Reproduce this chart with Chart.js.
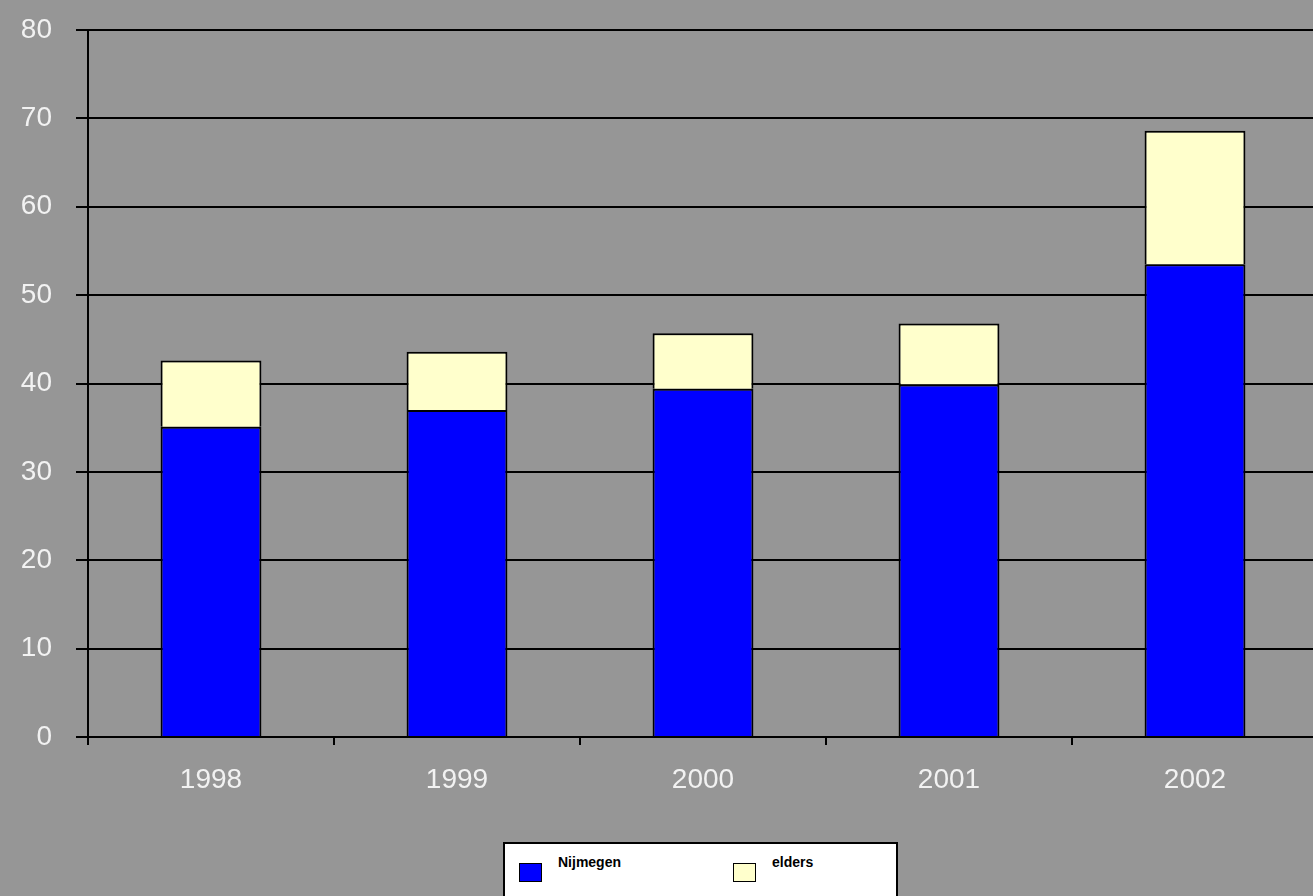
<!DOCTYPE html>
<html>
<head>
<meta charset="utf-8">
<script src="https://cdn.jsdelivr.net/npm/chart.js@4"></script>
<style>
  html, body { margin: 0; padding: 0; background: #969696; overflow: hidden; }
  #wrap { position: relative; width: 1330px; height: 896px; }
  #legend {
    position: absolute; left: 503px; top: 842px; width: 391px; height: 60px;
    background: #fff; border: 2px solid #000;
    font-family: "Liberation Sans", Arial, sans-serif; font-size: 14px; font-weight: bold; color: #000;
  }
  .lg { position: absolute; top: 10px; display: flex; align-items: flex-start; }
  .sw { width: 23px; height: 19px; border: 1px solid #000; margin-right: 16px; margin-top: 9px; box-sizing: border-box; }
</style>
</head>
<body>
<div id="wrap">
  <canvas id="c" width="1330" height="896"></canvas>
  <div id="legend"></div>
</div>
<script>
const years = ["1998", "1999", "2000", "2001", "2002"];
const nijmegen = [35.1, 37.0, 39.4, 39.9, 53.5];
const elders = [7.5, 6.6, 6.3, 6.9, 15.1];
const yTicks = { min: 0, max: 80, step: 10 };

const COLORS = { bg: "#969696", blue: "#0000ff", cream: "#ffffcc", text: "#f2f2f2" };
const tickFont = { family: "Liberation Sans", size: 28 };

const datasets = [
  { label: "Nijmegen", data: nijmegen, backgroundColor: COLORS.blue },
  { label: "elders", data: elders, backgroundColor: COLORS.cream },
].map((d) => ({
  ...d,
  borderColor: "#000",
  borderWidth: { top: 2, left: 2, right: 2, bottom: 0 },
  borderSkipped: false,
  barPercentage: 0.41,
  categoryPercentage: 1,
}));

new Chart(document.getElementById("c"), {
  type: "bar",
  data: { labels: years, datasets },
  options: {
    responsive: false,
    animation: false,
    layout: { padding: { top: 30, right: 12, left: 0, bottom: 0 } },
    plugins: { legend: { display: false }, tooltip: { enabled: false } },
    scales: {
      x: {
        stacked: true,
        afterFit: (axis) => { axis.height = 159; },
        grid: { offset: true, drawOnChartArea: false, color: "#000", lineWidth: 2, tickLength: 8 },
        border: { color: "#000", width: 2 },
        ticks: { color: COLORS.text, padding: 18, font: tickFont },
      },
      y: {
        stacked: true,
        min: yTicks.min,
        max: yTicks.max,
        afterFit: (axis) => {
          axis.width = 88;
          axis.paddingTop = 0;
        },
        grid: { color: "#000", lineWidth: 2, tickLength: 12 },
        border: { color: "#000", width: 2 },
        ticks: { stepSize: yTicks.step, color: COLORS.text, padding: 24, font: tickFont },
      },
    },
  },
});

// legend box below the chart
const legend = document.getElementById("legend");
const legendX = [14, 228];
datasets.forEach((d, i) => {
  const el = document.createElement("div");
  el.className = "lg";
  el.style.left = legendX[i] + "px";
  el.innerHTML = `<span class="sw" style="background:${d.backgroundColor}"></span><span>${d.label}</span>`;
  legend.appendChild(el);
});
</script>
</body>
</html>
